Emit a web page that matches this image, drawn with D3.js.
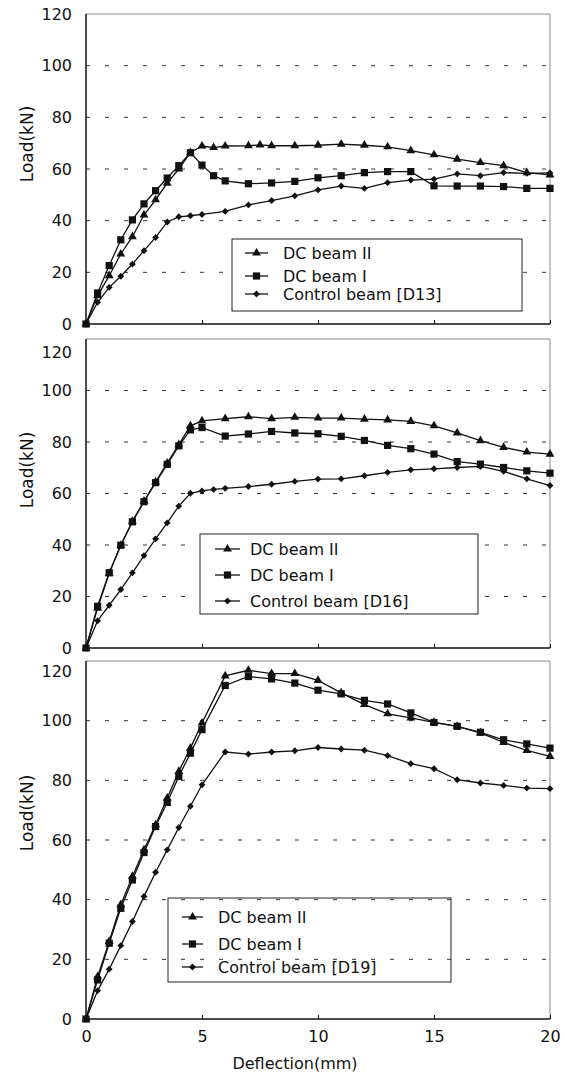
<!DOCTYPE html>
<html lang="en">
  <head>
    <meta charset="utf-8">
    <title>Load - deflection (D13, D16, D19)</title>
    <script type="text/javascript" src="https://d3js.org/d3.v7.min.js"></script>
    <style type="text/css">
    body { margin: 0; background: #fff; }
    text { font-family: "DejaVu Sans", sans-serif; fill: #111; }
    .axis text { font-family: "DejaVu Sans", sans-serif; font-size: 16px; fill: #111; }
    .axis line { stroke: #111; }
    .legend text { font-size: 16px; }
    .ylabel { font-size: 17px; }
    .xlabel { font-size: 16px; }
    </style>
  </head>
  <body>
    <svg width="565" height="1073" id="chart"></svg>
    <script type="text/javascript">

    // ticks
    const yTicks = [0, 20, 40, 60, 80, 100, 120];
    const gridTicks = [20, 40, 60, 80, 100];
    const xTicks = [0, 5, 10, 15, 20];

    // legend names
    const dc2Name = "DC beam II";
    const dc1Name = "DC beam I";
    const controlNames = ["Control beam [D13]", "Control beam [D16]", "Control beam [D19]"];

    // D13 panel (deflection mm / load kN)
    const d13Dc2X = [0,0.5,1,1.5,2,2.5,3,3.5,4,4.5,5,5.5,6,7,7.5,8,9,10,11,12,13,14,15,16,17,18,19,20];
    const d13Dc2Y = [0,11,18.7,27.1,33.8,42.2,48.1,54.5,60,66.3,68.9,68.3,68.9,69,69.3,69,69,69.2,69.6,69.2,68.6,67.1,65.5,63.8,62.5,61.3,58.6,57.7];
    const d13Dc1X = [0,0.5,1,1.5,2,2.5,3,3.5,4,4.5,5,5.5,6,7,8,9,10,11,12,13,14,15,16,17,18,19,20];
    const d13Dc1Y = [0,12,22.6,32.6,40.3,46.5,51.6,56.5,61.3,66.3,61.5,57.4,55.4,54.3,54.6,55.2,56.6,57.4,58.6,59,59,53.5,53.4,53.4,53.2,52.5,52.5];
    const d13CtrlX = [0,0.5,1,1.5,2,2.5,3,3.5,4,4.5,5,6,7,8,9,10,11,12,13,14,15,16,17,18,19,20];
    const d13CtrlY = [0,8.4,14.2,18.5,23.2,28.4,33.5,39.5,41.5,41.9,42.4,43.6,46.1,47.8,49.6,51.9,53.4,52.5,54.7,55.7,56.1,58.1,57.4,58.6,58.3,58.5];

    // D16 panel
    const d16Dc2X = [0,0.5,1,1.5,2,2.5,3,3.5,4,4.5,5,6,7,8,9,10,11,12,13,14,15,16,17,18,19,20];
    const d16Dc2Y = [0,15.5,29,39.9,49.2,57,64.5,71.8,79,86.3,88.2,89.1,89.8,89.1,89.6,89.3,89.3,88.9,88.6,88,86.3,83.5,80.5,77.9,76.1,75.3];
    const d16Dc1X = [0,0.5,1,1.5,2,2.5,3,3.5,4,4.5,5,6,7,8,9,10,11,12,13,14,15,16,17,18,19,20];
    const d16Dc1Y = [0,16.2,29.2,39.9,49,56.8,64.2,71.3,78.5,84.7,85.6,82.3,83.1,84.1,83.5,83.2,82.2,80.6,78.7,77.4,75.3,72.4,71.4,70.1,68.8,67.9];
    const d16CtrlX = [0,0.5,1,1.5,2,2.5,3,3.5,4,4.5,5,5.5,6,7,8,9,10,11,12,13,14,15,16,17,18,19,20];
    const d16CtrlY = [0,10.6,16.6,22.7,29.2,35.9,42.4,48.6,55.1,60.1,61,61.6,62,62.7,63.6,64.7,65.6,65.7,66.9,68.2,69.2,69.6,70.1,70.5,68.6,65.7,63.1];

    // D19 panel
    const d19Dc2X = [0,0.5,1,1.5,2,2.5,3,3.5,4,4.5,5,6,7,8,9,10,11,12,13,14,15,16,17,18,19,20];
    const d19Dc2Y = [0,14.2,26,38.3,47.8,56.7,65.1,74,83,90.8,99.2,115,116.9,115.8,115.8,113.5,109.3,105.4,102.3,100.9,99.4,98.1,95.9,92.7,90,88];
    const d19Dc1X = [0,0.5,1,1.5,2,2.5,3,3.5,4,4.5,5,6,7,8,9,10,11,12,13,14,15,16,17,18,19,20];
    const d19Dc1Y = [0,13.1,25.4,37.1,46.6,55.8,64.5,72.6,81.3,89.1,97,111.8,114.8,114,112.6,110.2,109,106.8,105.6,102.6,99.4,98.1,96.1,93.6,92.2,90.8];
    const d19CtrlX = [0,0.5,1,1.5,2,2.5,3,3.5,4,4.5,5,6,7,8,9,10,11,12,13,14,15,16,17,18,19,20];
    const d19CtrlY = [0,9.5,16.7,24.6,32.7,41.1,49.2,56.7,64.2,71.3,78.5,89.5,88.8,89.5,89.9,91,90.5,90.1,88.3,85.6,83.9,80.2,79.1,78.3,77.4,77.2];

    const zip = (xs, ys) => xs.map((x, i) => ({x: x, y: ys[i]}));

    const left = 86;
    const right = 550;

    // layout of the three stacked panels
    const panels = [
      {top: 14, bottom: 324, labelY: 144, topNudge: 0, showX: false,
       legend: {x: 232, y: 239, w: 290, h: 72, rows: [253, 276, 294], line: [245, 268], textX: 283, fill: "#fff"},
       series: [zip(d13Dc2X, d13Dc2Y), zip(d13Dc1X, d13Dc1Y), zip(d13CtrlX, d13CtrlY)], control: controlNames[0]},
      {top: 339, bottom: 648, labelY: 470, topNudge: 13, showX: false,
       legend: {x: 200, y: 534, w: 278, h: 80, rows: [549, 575, 601], line: [215, 240], textX: 250, fill: "#fff"},
       series: [zip(d16Dc2X, d16Dc2Y), zip(d16Dc1X, d16Dc1Y), zip(d16CtrlX, d16CtrlY)], control: controlNames[1]},
      {top: 661, bottom: 1019, labelY: 813, topNudge: 10, showX: true,
       legend: {x: 168, y: 898, w: 283, h: 84, rows: [917, 944, 967], line: [182, 203], textX: 218, fill: "none"},
       series: [zip(d19Dc2X, d19Dc2Y), zip(d19Dc1X, d19Dc1Y), zip(d19CtrlX, d19CtrlY)], control: controlNames[2]}
    ];

    const symbols = [
      d3.symbol().type(d3.symbolTriangle).size(34),
      d3.symbol().type(d3.symbolSquare).size(52),
      d3.symbol().type(d3.symbolDiamond2).size(30)
    ];

    const svg = d3.select("#chart");

    const xScale = d3.scaleLinear()
        .domain([0, 20])
        .range([left, right]);

    panels.forEach(p => {
      const yScale = d3.scaleLinear()
          .domain([0, 120])
          .range([p.bottom, p.top]);

      const g = svg.append("g");

      // dashed grid
      g.selectAll(".grid")
          .data(gridTicks)
          .enter()
          .append("line")
          .attr("x1", left)
          .attr("x2", right)
          .attr("y1", d => yScale(d))
          .attr("y2", d => yScale(d))
          .attr("stroke", "#333")
          .attr("stroke-width", 1)
          .attr("stroke-dasharray", "4,15");

      // frame: top/right light, left/bottom dark
      g.append("line")
          .attr("x1", left).attr("x2", right)
          .attr("y1", p.top).attr("y2", p.top)
          .attr("stroke", "#888").attr("stroke-width", 1);
      g.append("line")
          .attr("x1", right).attr("x2", right)
          .attr("y1", p.top).attr("y2", p.bottom)
          .attr("stroke", "#888").attr("stroke-width", 1);

      const leftAxis = d3.axisLeft()
          .scale(yScale)
          .tickValues(yTicks)
          .tickSize(0)
          .tickPadding(14);

      const ya = g.append("g")
          .attr("class", "axis")
          .attr("transform", "translate(" + left + ",0)")
          .call(leftAxis);
      ya.select(".domain").remove();
      ya.selectAll(".tick")
          .filter(d => d === 120)
          .select("text")
          .attr("y", p.topNudge);

      const bottomAxis = d3.axisBottom()
          .scale(xScale)
          .tickValues(xTicks)
          .tickSizeInner(-4)
          .tickSizeOuter(0)
          .tickPadding(12)
          .tickFormat(p.showX ? d3.format("d") : "");

      const xa = g.append("g")
          .attr("class", "axis")
          .attr("transform", "translate(0," + p.bottom + ")")
          .call(bottomAxis);
      xa.select(".domain").remove();

      g.append("line")
          .attr("x1", left).attr("x2", left)
          .attr("y1", p.top).attr("y2", p.bottom + 1)
          .attr("stroke", "#111").attr("stroke-width", 1.5);
      g.append("line")
          .attr("x1", left).attr("x2", right)
          .attr("y1", p.bottom).attr("y2", p.bottom)
          .attr("stroke", "#111").attr("stroke-width", 1.5);

      g.append("text")
          .attr("class", "ylabel")
          .attr("text-anchor", "middle")
          .attr("transform", "translate(33," + p.labelY + ") rotate(-90)")
          .text("Load(kN)");

      // legend box
      const lg = g.append("g").attr("class", "legend");
      lg.append("rect")
          .attr("x", p.legend.x)
          .attr("y", p.legend.y)
          .attr("width", p.legend.w)
          .attr("height", p.legend.h)
          .attr("fill", p.legend.fill)
          .attr("stroke", "#222")
          .attr("stroke-width", 1);

      const line = d3.line()
          .x(d => xScale(d.x))
          .y(d => yScale(d.y));

      // draw control first, DC beams on top
      [2, 1, 0].forEach(i => {
        const data = p.series[i];
        g.append("path")
            .datum(data)
            .attr("fill", "none")
            .attr("stroke", "#111")
            .attr("stroke-width", 1.3)
            .attr("d", line);
        g.selectAll(".m" + i)
            .data(data)
            .enter()
            .append("path")
            .attr("transform", d => "translate(" + xScale(d.x) + "," + yScale(d.y) + ")")
            .attr("d", symbols[i])
            .attr("fill", "#111");
      });

      const names = [dc2Name, dc1Name, p.control];
      names.forEach((name, i) => {
        const ry = p.legend.rows[i];
        lg.append("line")
            .attr("x1", p.legend.line[0]).attr("x2", p.legend.line[1])
            .attr("y1", ry).attr("y2", ry)
            .attr("stroke", "#111").attr("stroke-width", 1.3);
        lg.append("path")
            .attr("transform", "translate(" + ((p.legend.line[0] + p.legend.line[1]) / 2) + "," + ry + ")")
            .attr("d", symbols[i])
            .attr("fill", "#111");
        lg.append("text")
            .attr("x", p.legend.textX)
            .attr("y", ry)
            .attr("dy", "0.36em")
            .text(name);
      });
    });

    svg.append("text")
        .attr("class", "xlabel")
        .attr("text-anchor", "middle")
        .attr("x", 295)
        .attr("y", 1069)
        .text("Deflection(mm)");

    </script>
  </body>
</html>
